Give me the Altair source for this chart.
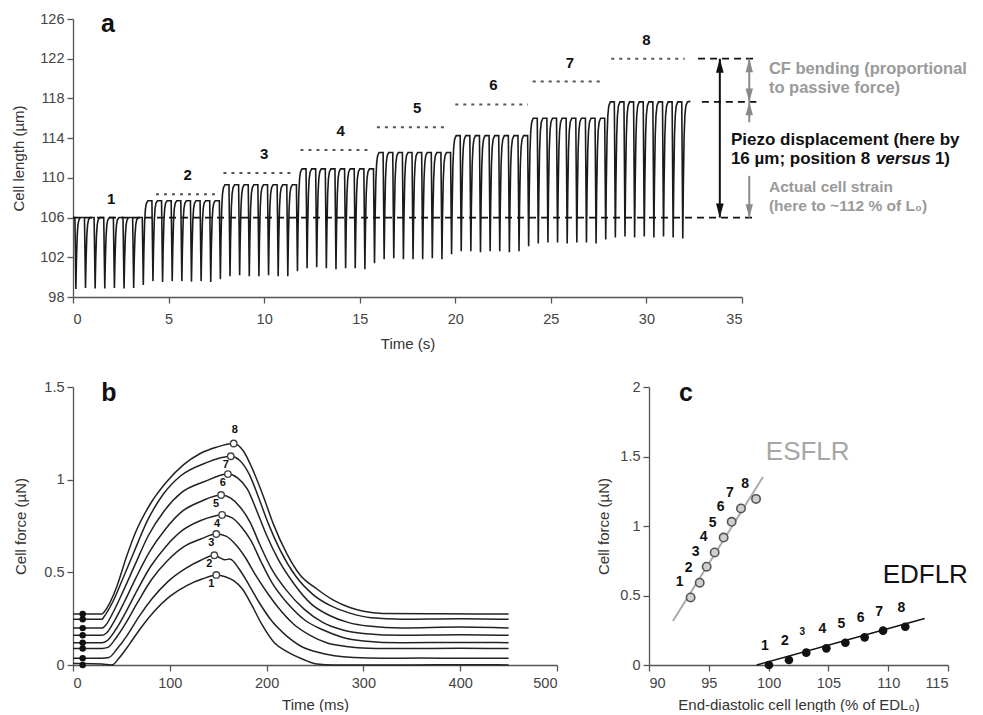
import altair as alt
import pandas as pd

FONT = "Liberation Sans"

# ---------------- Panel a : cell length trace ----------------
diastolic_level = [106.0, 107.7, 109.3, 110.9, 112.55, 114.25, 116.0, 117.65]
beat_minima = [
    [98.8, 98.9, 98.85, 98.85, 98.9, 98.85, 98.9, 99.2],
    [99.6, 99.5, 99.6, 99.6, 99.55, 99.6, 99.5, 99.8],
    [100.1, 100.2, 100.1, 100.1, 100.2, 100.1, 100.1, 100.6],
    [100.9, 101.0, 100.9, 100.8, 100.9, 100.9, 100.8, 101.4],
    [101.8, 101.9, 101.8, 101.8, 101.8, 101.9, 101.8, 102.3],
    [102.6, 102.6, 102.5, 102.6, 102.6, 102.5, 102.6, 103.1],
    [103.4, 103.5, 103.5, 103.4, 103.5, 103.5, 103.4, 103.8],
    [104.0, 104.1, 104.0, 104.1, 104.0, 104.1, 104.0, 103.9],
]
first_beat_s = 0.15
beat_period_s = 0.504
trace_end_s = 32.3
# shape of one twitch: time after the dip (s), fraction of twitch depth
beat_shape_offset = [0.0, 0.03, 0.07, 0.11, 0.16, 0.24, 0.45]
beat_shape_fraction = [1.0, 0.6, 0.25, 0.1, 0.03, 0.0, 0.0]

# piezo position reference (dotted) lines
dotted_level = [108.35, 110.5, 112.8, 115.1, 117.4, 119.7, 122.0]
dotted_start = [4.34, 7.87, 11.9, 15.9, 20.0, 24.05, 28.16]
dotted_end = [7.6, 11.63, 15.65, 19.66, 23.8, 27.8, 32.0]
position_labels = ["1", "2", "3", "4", "5", "6", "7", "8"]
position_label_x = [2.0, 6.0, 10.0, 14.0, 18.0, 22.0, 26.0, 30.0]
position_label_ref = [106.0, 108.35, 110.5, 112.8, 115.1, 117.4, 119.7, 122.0]

# black dashed guide lines
guide_level = [106.0, 117.65, 122.0]
guide_start = [0.0, 32.9, 32.7]
guide_end = [35.75, 35.75, 35.75]

# arrows
piezo_arrow_x = [33.84]
piezo_arrow_from = [106.0]
piezo_arrow_to = [122.0]
gray_shaft_x = [35.38, 35.38, 35.38]
gray_shaft_from = [117.65, 115.6, 106.0]
gray_shaft_to = [122.0, 117.65, 110.2]
black_head_up = (33.84, 122.0)
black_head_down = (33.84, 106.0)
gray_head_up_x = [35.38, 35.38]
gray_head_up_y = [122.0, 117.65]
gray_head_down_x = [35.38, 35.38]
gray_head_down_y = [117.65, 106.0]

# annotation text
gray_note_text = ["CF bending (proportional", "to passive force)", "Actual cell strain", "(here to ~112 % of L\u2080)"]
gray_note_x = [36.41, 36.41, 36.41, 36.41]
gray_note_y = [121.0, 119.1, 109.1, 107.15]
gray_note_size = [16.5, 16.5, 15.5, 15.5]
piezo_note_x = 34.42
piezo_note_y = [113.8, 111.9]

# ---------------- Panel b : force transients ----------------
curve_t = [
    [0, 10, 30, 40, 48, 58, 70, 84, 100, 118, 134, 148, 158, 166, 175, 185, 195, 208, 222, 238, 252, 270, 300, 350, 400, 450],
    [0, 10, 30, 37, 46, 56, 68, 82, 98, 116, 132, 146, 152, 157, 162, 172, 182, 192, 205, 220, 236, 252, 270, 290, 320, 360, 400, 450],
    [0, 10, 30, 36, 45, 55, 67, 81, 97, 115, 132, 148, 158, 168, 178, 188, 198, 212, 228, 245, 262, 282, 305, 340, 400, 450],
    [0, 10, 30, 35, 44, 54, 66, 80, 96, 114, 132, 154, 164, 174, 184, 194, 206, 222, 240, 258, 278, 300, 340, 400, 450],
    [0, 10, 30, 34, 43, 53, 65, 79, 95, 113, 133, 153, 163, 173, 183, 193, 205, 221, 239, 258, 278, 300, 340, 400, 450],
    [0, 10, 30, 33, 42, 52, 64, 78, 94, 112, 136, 160, 170, 180, 190, 200, 212, 228, 246, 264, 284, 305, 340, 400, 450],
    [0, 10, 30, 32, 41, 51, 63, 77, 93, 111, 137, 163, 172, 182, 192, 202, 214, 230, 248, 266, 286, 308, 340, 400, 450],
    [0, 10, 30, 32, 45, 55, 65, 80, 97, 114, 131, 148, 166, 176, 186, 197, 207, 221, 234, 252, 269, 286, 300, 320, 380, 450],
]
curve_f = [
    [0.008, 0.008, 0.005, 0.0, 0.04, 0.11, 0.2, 0.29, 0.37, 0.43, 0.465, 0.486, 0.475, 0.455, 0.41, 0.32, 0.22, 0.12, 0.07, 0.03, 0.005, 0.0, 0.0, 0.0, 0.002, 0.0],
    [0.036, 0.036, 0.036, 0.04, 0.09, 0.16, 0.26, 0.36, 0.45, 0.52, 0.565, 0.592, 0.578, 0.568, 0.572, 0.515, 0.43, 0.34, 0.24, 0.16, 0.1, 0.07, 0.05, 0.04, 0.036, 0.038, 0.036, 0.036],
    [0.089, 0.089, 0.089, 0.095, 0.15, 0.23, 0.34, 0.46, 0.56, 0.64, 0.68, 0.707, 0.695, 0.65, 0.58, 0.49, 0.41, 0.31, 0.22, 0.16, 0.12, 0.1, 0.09, 0.089, 0.09, 0.089],
    [0.12, 0.12, 0.12, 0.13, 0.19, 0.28, 0.4, 0.53, 0.64, 0.73, 0.78, 0.81, 0.795, 0.745, 0.67, 0.56, 0.44, 0.33, 0.24, 0.19, 0.15, 0.13, 0.12, 0.122, 0.12],
    [0.16, 0.16, 0.16, 0.17, 0.24, 0.34, 0.47, 0.61, 0.73, 0.83, 0.885, 0.917, 0.9, 0.85, 0.77, 0.65, 0.52, 0.4, 0.3, 0.23, 0.19, 0.17, 0.16, 0.163, 0.16],
    [0.199, 0.199, 0.199, 0.21, 0.29, 0.4, 0.54, 0.7, 0.83, 0.93, 0.99, 1.03, 1.01, 0.95, 0.83, 0.7, 0.57, 0.44, 0.33, 0.27, 0.23, 0.21, 0.2, 0.205, 0.2],
    [0.247, 0.247, 0.247, 0.26, 0.34, 0.46, 0.61, 0.78, 0.92, 1.02, 1.09, 1.126, 1.105, 1.03, 0.9, 0.76, 0.62, 0.48, 0.38, 0.32, 0.28, 0.255, 0.247, 0.25, 0.247],
    [0.275, 0.275, 0.275, 0.285, 0.42, 0.58, 0.72, 0.87, 0.99, 1.08, 1.14, 1.175, 1.195, 1.155, 1.05, 0.905, 0.76, 0.6, 0.49, 0.41, 0.35, 0.31, 0.29, 0.278, 0.276, 0.275],
]
peak_t = [148, 146, 148, 154, 153, 160, 163, 166]
marker_t = 10

# ---------------- Panel c : force-length relations ----------------
esflr_x = [93.48, 94.24, 94.82, 95.49, 96.24, 96.91, 97.69, 98.95]
esflr_y = [0.486, 0.592, 0.707, 0.81, 0.917, 1.03, 1.126, 1.195]
edflr_x = [100.03, 101.7, 103.15, 104.83, 106.42, 108.03, 109.57, 111.43]
edflr_y = [0.0, 0.036, 0.089, 0.12, 0.16, 0.199, 0.247, 0.275]
esflr_fit_x = [92.0, 99.53]
esflr_fit_y = [0.316, 1.353]
edflr_fit_x = [99.0, 113.05]
edflr_fit_y = [0.0, 0.335]
esflr_name_pos = (103.27, 1.53)
edflr_name_pos = (113.1, 0.647)

# ================= build tables =================
rows = [(0.0, diastolic_level[0]), (first_beat_s - 0.05, diastolic_level[0])]
for k in range(64):
    p = k // 8
    p_next = min((k + 1) // 8, 7)
    t0 = first_beat_s + beat_period_s * k
    m = beat_minima[p][k % 8]
    top = diastolic_level[p_next]
    for off, frac in zip(beat_shape_offset, beat_shape_fraction):
        t = t0 + off
        if t > trace_end_s:
            break
        rows.append((round(t, 4), top - frac * (top - m)))
rows.append((trace_end_s, diastolic_level[-1] + 0.05))
trace_df = pd.DataFrame(rows, columns=["x", "y"])

dotted_df = pd.DataFrame({"x": dotted_start, "x2": dotted_end, "y": dotted_level})
guide_df = pd.DataFrame({"x": guide_start, "x2": guide_end, "y": guide_level})
poslab_df = pd.DataFrame({"x": position_label_x, "y": position_label_ref, "label": position_labels})
piezo_df = pd.DataFrame({"x": piezo_arrow_x, "y": piezo_arrow_from, "y2": piezo_arrow_to})
gshaft_df = pd.DataFrame({"x": gray_shaft_x, "y": gray_shaft_from, "y2": gray_shaft_to})
bup_df = pd.DataFrame({"x": [black_head_up[0]], "y": [black_head_up[1]]})
bdown_df = pd.DataFrame({"x": [black_head_down[0]], "y": [black_head_down[1]]})
gup_df = pd.DataFrame({"x": gray_head_up_x, "y": gray_head_up_y})
gdown_df = pd.DataFrame({"x": gray_head_down_x, "y": gray_head_down_y})
gnote_df = pd.DataFrame({"x": gray_note_x, "y": gray_note_y, "text": gray_note_text, "size": gray_note_size})

bx = []
for i in range(8):
    for t, f in zip(curve_t[i], curve_f[i]):
        bx.append({"x": t, "y": f, "curve": i + 1})
curves_df = pd.DataFrame(bx)
peaks_df = pd.DataFrame({"x": peak_t, "y": esflr_y, "label": position_labels})
base_df = pd.DataFrame({"x": [marker_t] * 8, "y": edflr_y})

es_df = pd.DataFrame({"x": esflr_x, "y": esflr_y, "label": position_labels})
ed_df = pd.DataFrame({"x": edflr_x, "y": edflr_y, "label": position_labels})
esfit_df = pd.DataFrame({"x": esflr_fit_x, "y": esflr_fit_y})
edfit_df = pd.DataFrame({"x": edflr_fit_x, "y": edflr_fit_y})
esname_df = pd.DataFrame({"x": [esflr_name_pos[0]], "y": [esflr_name_pos[1]], "label": ["ESFLR"]})
edname_df = pd.DataFrame({"x": [edflr_name_pos[0]], "y": [edflr_name_pos[1]], "label": ["EDFLR"]})


def enc(xscale, yscale, xaxis, yaxis):
    return dict(x=alt.X("x:Q", scale=xscale, axis=xaxis), y=alt.Y("y:Q", scale=yscale, axis=yaxis))


def letter(ch, px, py):
    return alt.Chart(pd.DataFrame({"t": [ch]})).mark_text(
        fontSize=25, fontWeight="bold", color="#111", baseline="middle").encode(
        x=alt.value(px), y=alt.value(py), text="t:N")


AX = dict(grid=False, domainColor="#555", domainWidth=1.3, tickColor="#555", tickWidth=1.3, tickSize=6,
          labelColor="#444", labelFontSize=14.5, labelFont=FONT, titleFont=FONT, titleFontSize=15,
          titleFontWeight="normal", titleColor="#333", titleBaseline="middle")

# ================= panel a =================
xa = alt.Scale(domain=[0, 35], nice=False, zero=False)
ya = alt.Scale(domain=[98, 126], nice=False, zero=False)
ax_xa = alt.Axis(values=list(range(0, 36, 5)), title="Time (s)", titleY=46, labelPadding=9, **AX)
ax_ya = alt.Axis(values=list(range(98, 127, 4)), title="Cell length (\u00b5m)", titleX=-55, labelPadding=3, **AX)
EA = enc(xa, ya, ax_xa, ax_ya)

trace = alt.Chart(trace_df).mark_line(color="#1a1a1a", strokeWidth=1.6).encode(**EA)
dotted = alt.Chart(dotted_df).mark_rule(color="#555", strokeWidth=2, strokeDash=[3, 5]).encode(**EA, x2="x2:Q")
guides = alt.Chart(guide_df).mark_rule(color="#111", strokeWidth=1.8, strokeDash=[7, 5]).encode(**EA, x2="x2:Q")
poslab = alt.Chart(poslab_df).mark_text(fontSize=15, fontWeight="bold", dy=-19, color="#111").encode(
    **EA, text="label:N")
piezo = alt.Chart(piezo_df).mark_rule(color="#111", strokeWidth=2).encode(**EA, y2="y2:Q")
gshaft = alt.Chart(gshaft_df).mark_rule(color="#8a8a8a", strokeWidth=2).encode(**EA, y2="y2:Q")
UP = "M0,0L0.55,2L-0.55,2Z"
DOWN = "M0,0L0.55,-2L-0.55,-2Z"
bup = alt.Chart(bup_df).mark_point(shape=UP, filled=True, size=196, opacity=1, color="#111").encode(**EA)
bdown = alt.Chart(bdown_df).mark_point(shape=DOWN, filled=True, size=196, opacity=1, color="#111").encode(**EA)
gup = alt.Chart(gup_df).mark_point(shape=UP, filled=True, size=180, opacity=1, color="#8a8a8a").encode(**EA)
gdown = alt.Chart(gdown_df).mark_point(shape=DOWN, filled=True, size=180, opacity=1, color="#8a8a8a").encode(**EA)
gnote = alt.Chart(gnote_df).mark_text(align="left", baseline="middle", fontWeight="bold", color="#9a9a9a").encode(
    **EA, text="text:N", size=alt.Size("size:Q", scale=None, legend=None))


def piezo_text(txt, y, dx=0, italic=False):
    kw = dict(align="left", baseline="middle", fontWeight="bold", fontSize=17, color="#111", dx=dx)
    if italic:
        kw["fontStyle"] = "italic"
    return alt.Chart(pd.DataFrame({"x": [piezo_note_x], "y": [y], "t": [txt]})).mark_text(**kw).encode(
        **EA, text="t:N")


pz1 = piezo_text("Piezo displacement (here by", piezo_note_y[0])
pz2 = piezo_text("16 \u00b5m; position 8", piezo_note_y[1])
pz3 = piezo_text("versus", piezo_note_y[1], dx=145, italic=True)
pz4 = piezo_text("1)", piezo_note_y[1], dx=204)

panel_a = alt.layer(trace, dotted, guides, poslab, piezo, gshaft, bup, bdown, gup, gdown, gnote,
                    pz1, pz2, pz3, pz4, letter("a", 35, 5)).properties(width=669, height=278)

# ================= panel b =================
xb = alt.Scale(domain=[0, 500], nice=False)
yb = alt.Scale(domain=[0, 1.5], nice=False)
ax_xb = alt.Axis(values=list(range(0, 501, 100)), title="Time (ms)", titleY=39, labelPadding=5, **AX)
ax_yb = alt.Axis(values=[0, 0.5, 1, 1.5], format="~g", title="Cell force (\u00b5N)", titleX=-53, labelPadding=3, **AX)
EB = enc(xb, yb, ax_xb, ax_yb)

lines_b = alt.Chart(curves_df).mark_line(color="#222", strokeWidth=1.5, interpolate="monotone").encode(
    **EB, detail="curve:N")
base_pts = alt.Chart(base_df).mark_point(filled=True, size=42, color="#111", opacity=1).encode(**EB)
peak_pts = alt.Chart(peaks_df).mark_point(filled=True, fill="white", stroke="#444", strokeWidth=1.4, size=42,
                                          opacity=1).encode(**EB)
peak_lab_hi = alt.Chart(peaks_df).transform_filter(alt.datum.label == "8").mark_text(
    fontSize=11, fontWeight="bold", color="#111", dy=-14, dx=1).encode(**EB, text="label:N")
peak_lab_lo = alt.Chart(peaks_df).transform_filter(alt.datum.label != "8").mark_text(
    fontSize=11, fontWeight="bold", color="#111", dy=9, dx=-5).encode(**EB, text="label:N")
panel_b = alt.layer(lines_b, base_pts, peak_pts, peak_lab_hi, peak_lab_lo, letter("b", 36, 6)).properties(
    width=484, height=278)

# ================= panel c =================
xc = alt.Scale(domain=[90, 115], nice=False, zero=False)
yc = alt.Scale(domain=[0, 2], nice=False)
ax_xc = alt.Axis(values=list(range(90, 116, 5)), title="End-diastolic cell length (% of EDL\u2080)",
                 titleY=39, labelPadding=5, **AX)
ax_yc = alt.Axis(values=[0, 0.5, 1, 1.5, 2], format="~g", title="Cell force (\u00b5N)", titleX=-46,
                 labelPadding=3, **AX)
EC = enc(xc, yc, ax_xc, ax_yc)

es_fit = alt.Chart(esfit_df).mark_line(color="#aaaaaa", strokeWidth=2).encode(**EC)
ed_fit = alt.Chart(edfit_df).mark_line(color="#111", strokeWidth=1.5).encode(**EC)
es_pts = alt.Chart(es_df).mark_point(filled=True, fill="#cfcfcf", stroke="#555", strokeWidth=1.6, size=70,
                                     opacity=1).encode(**EC)
ed_pts = alt.Chart(ed_df).mark_point(filled=True, color="#111", size=75, opacity=1).encode(**EC)
es_lab = alt.Chart(es_df).mark_text(fontSize=14, fontWeight="bold", color="#111", dx=-11, dy=-15).encode(
    **EC, text="label:N")
ed_lab = alt.Chart(ed_df).transform_filter(alt.datum.label != "3").mark_text(
    fontSize=14, fontWeight="bold", color="#111", dx=-4, dy=-19).encode(**EC, text="label:N")
ed_lab3 = alt.Chart(ed_df).transform_filter(alt.datum.label == "3").mark_text(
    fontSize=10, fontWeight="bold", color="#111", dx=-4, dy=-21).encode(**EC, text="label:N")
es_name = alt.Chart(esname_df).mark_text(fontSize=26, baseline="middle", color="#a6a6a6").encode(**EC, text="label:N")
ed_name = alt.Chart(edname_df).mark_text(fontSize=26, baseline="middle", color="#111").encode(**EC, text="label:N")
panel_c = alt.layer(es_fit, ed_fit, es_pts, ed_pts, es_lab, ed_lab, ed_lab3, es_name, ed_name,
                    letter("c", 37, 6)).properties(width=299, height=278)

bottom = alt.hconcat(panel_b, panel_c, spacing=92, bounds="flush")
chart = alt.vconcat(panel_a, bottom, spacing=90, bounds="flush").properties(
    padding={"left": 3, "top": 3, "right": 0, "bottom": 0}
).configure(font=FONT, background="white").configure_view(strokeWidth=0, strokeOpacity=0).configure_axis(
    **AX
).configure_text(font=FONT)

chart.save("out.html", embed_options={"renderer": "svg", "actions": False})
